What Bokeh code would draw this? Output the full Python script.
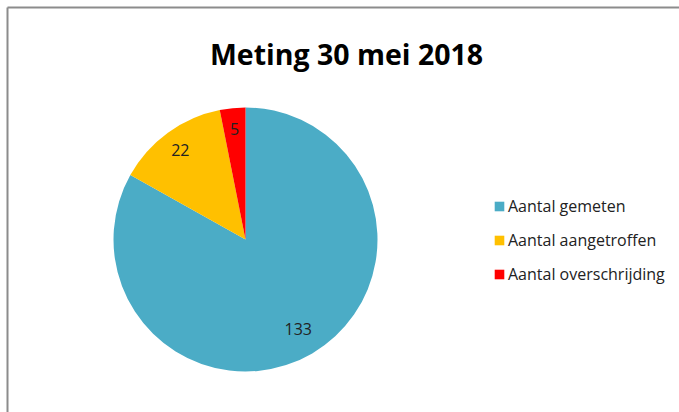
import math
from bokeh.plotting import figure
from bokeh.models import ColumnDataSource, Legend, LegendItem, Range1d
from bokeh.core.properties import value
from bokeh.embed import file_html
from bokeh.resources import INLINE

title = "Meting 30 mei 2018"
categories = ["Aantal gemeten", "Aantal aangetroffen", "Aantal overschrijding"]
values = [133, 22, 5]
colors = ["#4BACC6", "#FFC000", "#FF0000"]

W, H = 679, 412
CX, CY, R = 245, H - 239, 132
FONT = "Open Sans"
label_radius = [0.79, 0.84, 0.84]

total = sum(values)
starts, ends, lx, ly = [], [], [], []
a = math.pi / 2
for v, f in zip(values, label_radius):
    sweep = 2 * math.pi * v / total
    starts.append(a)
    ends.append(a - sweep)
    mid = a - sweep / 2
    lx.append(CX + f * R * math.cos(mid))
    ly.append(CY + f * R * math.sin(mid))
    a -= sweep

src = ColumnDataSource(dict(cat=categories, val=values, color=colors,
                            start=starts, end=ends, lx=lx, ly=ly,
                            label=[str(v) for v in values]))

p = figure(width=W, height=H, output_backend="svg", toolbar_location=None,
           x_range=Range1d(0, W), y_range=Range1d(0, H), min_border=0,
           outline_line_color=None)
p.axis.visible = False
p.grid.visible = False

# chart border (cropped chart area: only top and left edges visible)
p.line([7, 7], [0, H - 7], line_color="#8c8c8c", line_width=2)
p.line([7, W], [H - 7, H - 7], line_color="#8c8c8c", line_width=2)

wr = p.wedge(x=CX, y=CY, radius=R, start_angle="start", end_angle="end",
             direction="clock", fill_color="color", line_color=None, source=src)

p.text(x="lx", y="ly", text="label", source=src, text_align="center",
       text_baseline="middle", text_font=value(FONT), text_font_size="16px",
       text_color="#222222")

p.text(x=[346], y=[H - 53], text=[title], text_align="center",
       text_baseline="alphabetic", text_font=value(FONT), text_font_size="28.5px",
       text_font_style="bold", text_color="#000000")

items = [LegendItem(label=c, renderers=[wr], index=i) for i, c in enumerate(categories)]
legend = Legend(items=items, location=(493, 127), padding=0, margin=0,
                border_line_color=None, background_fill_alpha=0,
                glyph_width=12, glyph_height=12, label_standoff=3,
                spacing=12, label_text_font=FONT, label_text_font_size="16px",
                label_text_color="#222222")
p.add_layout(legend, "center")

open("out.html", "w").write(file_html(p, INLINE))
